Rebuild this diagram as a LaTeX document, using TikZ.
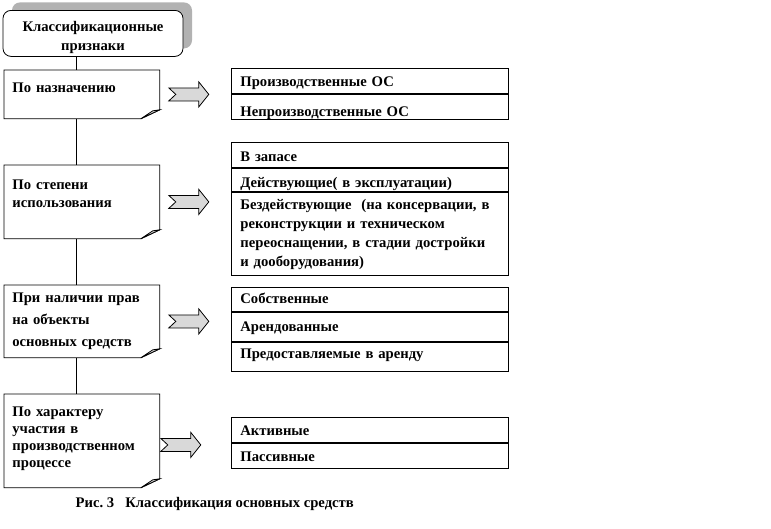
\documentclass[tikz,border=0pt]{standalone}
\usepackage{fontspec}
\setmainfont{Liberation Serif}
\usetikzlibrary{positioning,shadows}

\begin{document}
\begin{tikzpicture}[x=1pt,y=-1pt,thick,font=\fontsize{14.67}{16.9}\selectfont\bfseries,
    lead/.style={font=\fontsize{14.67}{#1}\selectfont\bfseries},
    head/.style={draw,fill=white,rounded corners=8pt,anchor=north,text width=170pt,align=center,
        inner xsep=5pt,inner ysep=0pt,lead=19pt,
        drop shadow={shadow xshift=9pt,shadow yshift=8pt,fill=black!30,opacity=1}},
    crit/.style={anchor=north west,text width=139pt,align=left,inner xsep=8pt,inner ysep=0pt},
    row/.style={draw,anchor=north west,text width=259pt,align=left,inner xsep=9pt,inner ysep=0pt},
    blockarrow/.pic={\draw[fill=gray!30] (0,-6.5) -- (30,-6.5) -- (30,-12.5) -- (40,0)
        -- (30,12.5) -- (30,6.5) -- (0,6.5) -- (7,0) -- cycle;}]
    \useasboundingbox (0,0) rectangle (771,528);
    \coordinate (spine) at (76,0);

    % heading
    \node[head,text height=21pt,text depth=25pt] (title) at (93,10) {Классификационные\\признаки};

    % criteria on the left
    \node[crit,text height=22pt,text depth=26pt] (p1) at (4,70) {По назначению};
    \node[crit,lead=18pt,text height=24pt,text depth=49pt] (p2) at (4,165) {По степени\\использования};
    \node[crit,lead=22pt,text height=17pt,text depth=55pt] (p3) at (4,285) {При наличии прав\\на объекты\\основных средств};
    \node[crit,lead=17pt,text height=22pt,text depth=71pt] (p4) at (4,394) {По характеру\\участия в\\производственном\\процессе};
    \foreach \n in {p1,p2,p3,p4}{
        \draw (\n.north west) -- (\n.north east) -- ([yshift=9pt]\n.south east)
            -- ([xshift=-19pt]\n.south east) -- (\n.south west) -- cycle;
        \filldraw[fill=gray!30] ([yshift=9pt]\n.south east) -- ([xshift=-7pt,yshift=8pt]\n.south east)
            -- ([xshift=-19pt]\n.south east) -- cycle;
    }
    \foreach \a/\b in {title/p1,p1/p2,p2/p3,p3/p4}
        \draw (spine |- \a.south) -- (spine |- \b.north);

    % groups on the right
    \node[row,text height=18pt,text depth=7pt] (r11) at (231,68) {Производственные ОС};
    \node[row,below=0pt of r11,text height=22pt,text depth=3pt] (r12) {Непроизводственные ОС};

    \node[row,text height=19pt,text depth=6pt] (r21) at (231,142) {В запасе};
    \node[row,below=0pt of r21,text height=19pt,text depth=4pt] (r22) {Действующие( в эксплуатации)};
    \node[row,below=0pt of r22,lead=19pt,text height=17pt,text depth=66pt] (r23)
        {Бездействующие\ \ (на консервации, в\\реконструкции и техническом\\переоснащении, в стадии достройки\\и дооборудования)};

    \node[row,text height=16pt,text depth=8pt] (r31) at (231,287) {Собственные};
    \node[row,below=0pt of r31,text height=19pt,text depth=10pt] (r32) {Арендованные};
    \node[row,below=0pt of r32,text height=16pt,text depth=13pt] (r33) {Предоставляемые в аренду};

    \node[row,text height=18pt,text depth=7pt] (r41) at (231,417) {Активные};
    \node[row,below=0pt of r41,text height=18pt,text depth=7pt] (r42) {Пассивные};

    % block arrows
    \foreach \n in {p1,p2,p3}
        \pic at ([xshift=9pt]\n.east) {blockarrow};
    \pic at ([xshift=1pt,yshift=-4pt]p4.east) {blockarrow};

    \node[anchor=base west] (caption) at (72,507) {Рис.~3\ \ \ Классификация основных средств};
\end{tikzpicture}
\end{document}
